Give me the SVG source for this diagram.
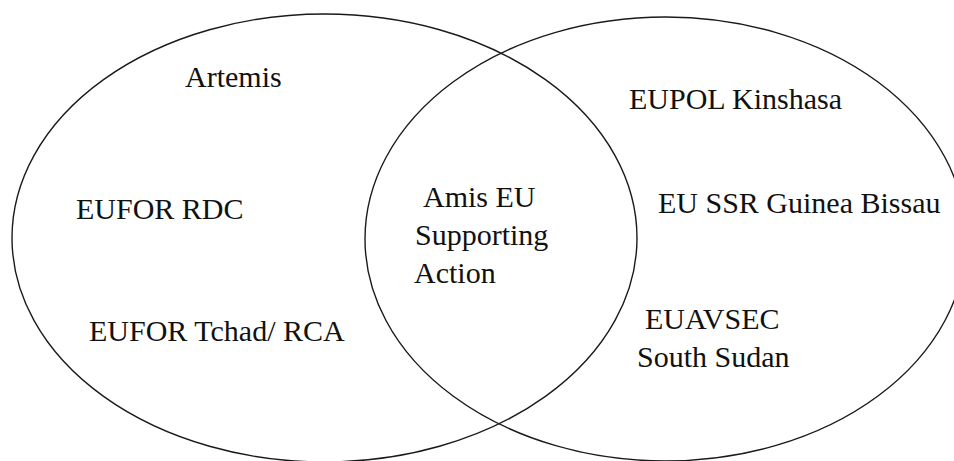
<svg xmlns="http://www.w3.org/2000/svg" width="954" height="461" viewBox="0 0 954 461">
  <style>
    .set { fill: none; stroke: #1a1a1a; stroke-width: 1.4; }
    .label { font-family: "Liberation Serif", "DejaVu Serif", serif; font-size: 30px; fill: #111; }
  </style>
  <rect width="954" height="461" fill="#ffffff"/>

  <!-- Left set: military operations -->
  <g id="set-left">
    <ellipse class="set" cx="324.5" cy="238" rx="312.5" ry="224"/>
    <text class="label" x="185" y="87">Artemis</text>
    <text class="label" x="76" y="219">EUFOR RDC</text>
    <text class="label" x="89" y="341">EUFOR Tchad/ RCA</text>
  </g>

  <!-- Right set: civilian missions -->
  <g id="set-right">
    <ellipse class="set" cx="665.5" cy="239" rx="300.5" ry="222"/>
    <text class="label" x="629" y="109">EUPOL Kinshasa</text>
    <text class="label" x="658" y="213">EU SSR Guinea Bissau</text>
    <text class="label" x="645" y="329">EUAVSEC</text>
    <text class="label" x="637" y="367">South Sudan</text>
  </g>

  <!-- Overlap: mixed action -->
  <g id="set-overlap">
    <text class="label" x="423" y="207">Amis EU</text>
    <text class="label" x="415" y="245">Supporting</text>
    <text class="label" x="414" y="283">Action</text>
  </g>
</svg>
